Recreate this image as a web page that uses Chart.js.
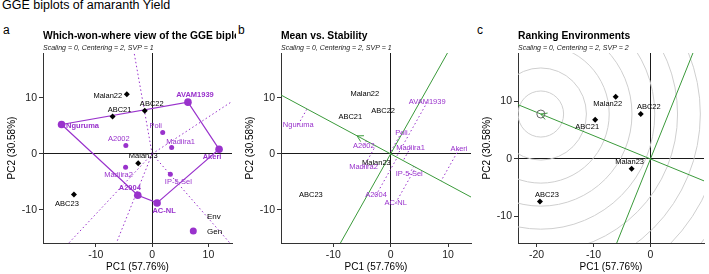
<!DOCTYPE html>
<html>
<head>
<meta charset="utf-8">
<script src="https://cdn.jsdelivr.net/npm/chart.js@4.4.1/dist/chart.umd.min.js"></script>
<style>
  body { margin: 0; background: #fff; width: 709px; height: 274px; overflow: hidden; position: relative;
         font-family: "Liberation Sans", Arial, Helvetica, sans-serif; }
  canvas { position: absolute; top: 0; }
  .t { position: absolute; color: #000; white-space: nowrap; line-height: 12px; }
</style>
</head>
<body>
<div class="t" style="left:2px;top:-1px;font-size:12.5px">GGE biplots of amaranth Yield</div>
<div class="t" style="left:3px;top:24px;font-size:12px">a</div>
<div class="t" style="left:238px;top:24px;font-size:12px">b</div>
<div class="t" style="left:477px;top:24px;font-size:12px">c</div>
<canvas id="ca" width="236" height="274" style="left:0"></canvas>
<canvas id="cb" width="236" height="274" style="left:236px"></canvas>
<canvas id="cc" width="237" height="274" style="left:472px"></canvas>
<script>
const FONT = '"Liberation Sans", Arial, Helvetica, sans-serif';
Chart.defaults.font.family = FONT;

// environment scores (SVP = 1)
const envNames = ["Malan22", "ABC21", "ABC22", "Malan23", "ABC23"];
const envPC1 = [-4.5, -7.03, -1.31, -2.48, -13.9];
const envPC2 = [10.66, 6.66, 7.68, -1.67, -7.26];
// environment scores (SVP = 2, ranking plot)
const envPC1r = [-6.1, -9.7, -1.7, -3.3, -19.4];
const envPC2r = [10.8, 6.8, 7.8, -1.7, -7.4];
// genotype scores
const genNames = ["AVAM1939", "Nguruma", "Poli", "A2002", "Madiira1", "Akeri", "Madiira2", "IP-5-Sel", "A2004", "AC-NL"];
const genPC1 = [6.37, -16.1, 1.88, -4.67, 3.47, 11.9, -4.72, 3.24, -2.55, 0.88];
const genPC2 = [9.23, 5.24, 3.8, 1.48, 1.13, 0.83, -2.38, -3.63, -7.38, -8.75];
const xTicks = [-20, -10, 0, 10];
const yTicks = [-10, 0, 10];

const PURPLE = '#9932CC';
const GREEN = '#3a9a3a';

// label nudges in pixels
const nudgeA = {
  Malan22: [-19, 2], ABC21: [7, -7], ABC22: [7, -7], Malan23: [5, -7], ABC23: [-7, 9],
  AVAM1939: [7, -7], Nguruma: [21, 1], Poli: [-7, -7], A2002: [-7, -7], Madiira1: [9, -6],
  Akeri: [-7, 8], Madiira2: [-7, 8], 'IP-5-Sel': [8, 8], A2004: [-8, -7], 'AC-NL': [7, 8]
};
const nudgeC = { Malan22: [-8, 7], ABC22: [8, -7], ABC21: [-8, 7], Malan23: [-2, -7], ABC23: [7, -7] };

const env = envNames.map((n, i) => ({ name: n, x: envPC1[i], y: envPC2[i] }));
const envR = envNames.map((n, i) => ({ name: n, x: envPC1r[i], y: envPC2r[i] }));
const gen = genNames.map((n, i) => ({ name: n, x: genPC1[i], y: genPC2[i] }));

function convexHull(pts) {
  const p = pts.slice().sort((a, b) => a.x - b.x || a.y - b.y);
  const cross = (o, a, b) => (a.x - o.x) * (b.y - o.y) - (a.y - o.y) * (b.x - o.x);
  const lo = [], up = [];
  for (const q of p) { while (lo.length >= 2 && cross(lo[lo.length - 2], lo[lo.length - 1], q) <= 0) lo.pop(); lo.push(q); }
  for (const q of p.slice().reverse()) { while (up.length >= 2 && cross(up[up.length - 2], up[up.length - 1], q) <= 0) up.pop(); up.push(q); }
  return lo.slice(0, -1).concat(up.slice(0, -1));
}
const hull = convexHull(gen);
const onHull = new Set(hull.map(p => p.name));

const mean = pts => ({ x: pts.reduce((s, p) => s + p.x, 0) / pts.length, y: pts.reduce((s, p) => s + p.y, 0) / pts.length });
const unit = v => { const l = Math.hypot(v.x, v.y); return { x: v.x / l, y: v.y / l }; };
const FAR = 200;
const fullLine = d => [{ x: -d.x * FAR, y: -d.y * FAR }, { x: d.x * FAR, y: d.y * FAR }];
function arrowHead(tip, d, len) {
  const a = Math.PI / 6, b = { x: -d.x, y: -d.y };
  const rot = t => ({ x: b.x * Math.cos(t) - b.y * Math.sin(t), y: b.x * Math.sin(t) + b.y * Math.cos(t) });
  const w1 = rot(a), w2 = rot(-a);
  return [{ x: tip.x + w1.x * len, y: tip.y + w1.y * len }, { x: tip.x, y: tip.y }, { x: tip.x + w2.x * len, y: tip.y + w2.y * len }];
}
const lineSet = (data, color, width, dash, order) => ({
  type: 'scatter', data, showLine: true, borderColor: color, borderWidth: width,
  borderDash: dash || [], pointRadius: 0, fill: false, order: order || 5
});

function axes(xmin, xmax, ymin, ymax, yWidth) {
  const grid = {
    color: c => (c.tick && c.tick.value === 0) ? '#1a1a1a' : 'rgba(0,0,0,0)',
    tickColor: '#333', tickLength: 4, lineWidth: 1, drawOnChartArea: true
  };
  const ticks = { color: '#222', font: { size: 10.5, family: FONT }, padding: 2, maxRotation: 0, autoSkip: false };
  return {
    x: {
      type: 'linear', min: xmin, max: xmax, grid, ticks, border: { color: '#333', width: 1 },
      afterBuildTicks: s => { s.ticks = xTicks.filter(v => v >= s.min && v <= s.max).map(v => ({ value: v })); },
      afterFit: s => { s.height = 31; }
    },
    y: {
      type: 'linear', min: ymin, max: ymax, grid, ticks, border: { color: '#333', width: 1 },
      afterBuildTicks: s => { s.ticks = yTicks.filter(v => v >= s.min && v <= s.max).map(v => ({ value: v })); },
      afterFit: s => { s.width = yWidth; }
    }
  };
}

function panelText(title, subtitle) {
  return {
    id: 'panelText',
    afterDraw(chart) {
      const { ctx, chartArea: a } = chart;
      ctx.save();
      ctx.fillStyle = '#000';
      ctx.textAlign = 'left';
      ctx.textBaseline = 'alphabetic';
      ctx.font = 'bold 10.3px ' + FONT;
      ctx.fillText(title, a.left, 39);
      ctx.font = 'italic 7px ' + FONT;
      ctx.fillStyle = '#222';
      ctx.fillText(subtitle, a.left, 49.5);
      ctx.fillStyle = '#000';
      ctx.font = '10px ' + FONT;
      ctx.textAlign = 'center';
      ctx.fillText('PC1 (57.76%)', (a.left + a.right) / 2, 270);
      ctx.translate(a.left - 31, (a.top + a.bottom) / 2);
      ctx.rotate(-Math.PI / 2);
      ctx.textBaseline = 'middle';
      ctx.fillText('PC2 (30.58%)', 0, 0);
      ctx.restore();
    }
  };
}

function pointLabels(items) {
  return {
    id: 'pointLabels',
    afterDatasetsDraw(chart) {
      const { ctx, scales: { x, y } } = chart;
      ctx.save();
      ctx.textAlign = 'center';
      ctx.textBaseline = 'middle';
      items.forEach(it => {
        ctx.font = (it.bold ? 'bold ' : '') + '7.5px ' + FONT;
        ctx.fillStyle = it.color;
        ctx.fillText(it.text, x.getPixelForValue(it.x) + it.dx, y.getPixelForValue(it.y) + it.dy);
      });
      ctx.restore();
    }
  };
}

const legendA = {
  id: 'legendA',
  afterDatasetsDraw(chart) {
    const { ctx, chartArea: a } = chart;
    ctx.save();
    ctx.font = '8px ' + FONT;
    ctx.fillStyle = '#000';
    ctx.textBaseline = 'middle';
    ctx.fillText('Env', a.right - 25, a.bottom - 26.5);
    ctx.fillText('Gen', a.right - 25, a.bottom - 11.5);
    ctx.fillStyle = PURPLE;
    ctx.beginPath();
    ctx.arc(a.right - 38.7, a.bottom - 12, 3.5, 0, Math.PI * 2);
    ctx.fill();
    ctx.restore();
  }
};

const baseOpts = (scales, rightPad) => ({
  responsive: false, animation: false,
  layout: { padding: { top: 53, right: rightPad, left: 0, bottom: 0 } },
  plugins: { legend: { display: false }, tooltip: { enabled: false } },
  scales
});

// ---------- panel a : which-won-where ----------
const polyA = hull.concat([hull[0]]).map(p => ({ x: p.x, y: p.y }));
const perpA = hull.map((p1, i) => {
  const p2 = hull[(i + 1) % hull.length];
  const d = { x: p2.x - p1.x, y: p2.y - p1.y };
  const t = -(p1.x * d.x + p1.y * d.y) / (d.x * d.x + d.y * d.y);
  const u = unit({ x: p1.x + t * d.x, y: p1.y + t * d.y });
  return lineSet([{ x: 0, y: 0 }, { x: u.x * FAR, y: u.y * FAR }], PURPLE, 1, [1.5, 2.5], 6);
});
const labelsA = env.map(p => ({ text: p.name, x: p.x, y: p.y, dx: nudgeA[p.name][0], dy: nudgeA[p.name][1], color: '#000' }))
  .concat(gen.map(p => ({ text: p.name, x: p.x, y: p.y, dx: nudgeA[p.name][0], dy: nudgeA[p.name][1], color: PURPLE, bold: onHull.has(p.name) })));

new Chart(document.getElementById('ca'), {
  type: 'scatter',
  data: {
    datasets: [
      { data: env, pointStyle: 'rectRot', pointRadius: 3, backgroundColor: '#000', borderColor: '#000', borderWidth: 0, order: 0 },
      { data: gen, pointStyle: 'circle', pointRadius: gen.map(p => onHull.has(p.name) ? 3.8 : 2.5),
        backgroundColor: PURPLE, borderWidth: 0, order: 1 },
      lineSet(polyA, PURPLE, 1.2, null, 4),
      ...perpA
    ]
  },
  options: baseOpts(axes(-19.4, 14.2, -15.9, 18.0, 43), 3),
  plugins: [panelText('Which-won-where view of the GGE biplot', 'Scaling = 0, Centering = 2, SVP = 1'), pointLabels(labelsA), legendA]
});

// ---------- panel b : mean vs stability ----------
const mB = mean(env);
const dB = unit(mB);
const projB = gen.map(p => {
  const s = p.x * dB.x + p.y * dB.y;
  return lineSet([{ x: p.x, y: p.y }, { x: s * dB.x, y: s * dB.y }], PURPLE, 1, [1.5, 2.5], 6);
});
const labelsB = env.map(p => ({ text: p.name, x: p.x, y: p.y, dx: 0, dy: 0, color: '#000' }))
  .concat(gen.map(p => ({ text: p.name, x: p.x, y: p.y, dx: 0, dy: 0, color: PURPLE })));

new Chart(document.getElementById('cb'), {
  type: 'scatter',
  data: {
    datasets: [
      lineSet(fullLine(dB), GREEN, 1, null, 3),
      lineSet(fullLine({ x: dB.y, y: -dB.x }), GREEN, 1, null, 3),
      lineSet(arrowHead(mB, dB, 1.2), GREEN, 1, null, 3),
      ...projB
    ]
  },
  options: baseOpts(axes(-19.1, 14.0, -15.9, 18.0, 45), 1),
  plugins: [panelText('Mean vs. Stability', 'Scaling = 0, Centering = 2, SVP = 1'), pointLabels(labelsB)]
});

// ---------- panel c : ranking environments ----------
const dC = unit(mean(envR));
const maxLen = Math.max(...envR.map(p => Math.hypot(p.x, p.y)));
const ideal = { x: dC.x * maxLen, y: dC.y * maxLen };
const ringStep = 4;
const rings = {
  id: 'rings',
  beforeDatasetsDraw(chart) {
    const { ctx, chartArea: a, scales: { x, y } } = chart;
    const cx = x.getPixelForValue(ideal.x), cy = y.getPixelForValue(ideal.y);
    ctx.save();
    ctx.beginPath();
    ctx.rect(a.left, a.top, a.right - a.left, a.bottom - a.top);
    ctx.clip();
    ctx.strokeStyle = '#cfcfcf';
    ctx.lineWidth = 1;
    for (let k = 1; k <= 14; k++) {
      const rx = Math.abs(x.getPixelForValue(ideal.x + k * ringStep) - cx);
      const ry = Math.abs(y.getPixelForValue(ideal.y + k * ringStep) - cy);
      ctx.beginPath();
      ctx.ellipse(cx, cy, rx, ry, 0, 0, Math.PI * 2);
      ctx.stroke();
    }
    ctx.restore();
  }
};
const labelsC = envR.map(p => ({ text: p.name, x: p.x, y: p.y, dx: nudgeC[p.name][0], dy: nudgeC[p.name][1], color: '#000' }));

new Chart(document.getElementById('cc'), {
  type: 'scatter',
  data: {
    datasets: [
      { data: envR, pointStyle: 'rectRot', pointRadius: 3, backgroundColor: '#000', borderColor: '#000', borderWidth: 0, order: 0 },
      { data: [ideal], pointStyle: 'circle', pointRadius: 4, backgroundColor: 'rgba(0,0,0,0)', borderColor: '#666', borderWidth: 1, order: 1 },
      lineSet(fullLine(dC), GREEN, 1, null, 3),
      lineSet(fullLine({ x: dC.y, y: -dC.x }), GREEN, 1, null, 3),
      lineSet(arrowHead(ideal, dC, 1.2), GREEN, 1, null, 3)
    ]
  },
  options: baseOpts(axes(-23.25, 9.4, -14.6, 18.4, 46), 0),
  plugins: [rings, panelText('Ranking Environments', 'Scaling = 0, Centering = 2, SVP = 2'), pointLabels(labelsC)]
});
</script>
</body>
</html>
